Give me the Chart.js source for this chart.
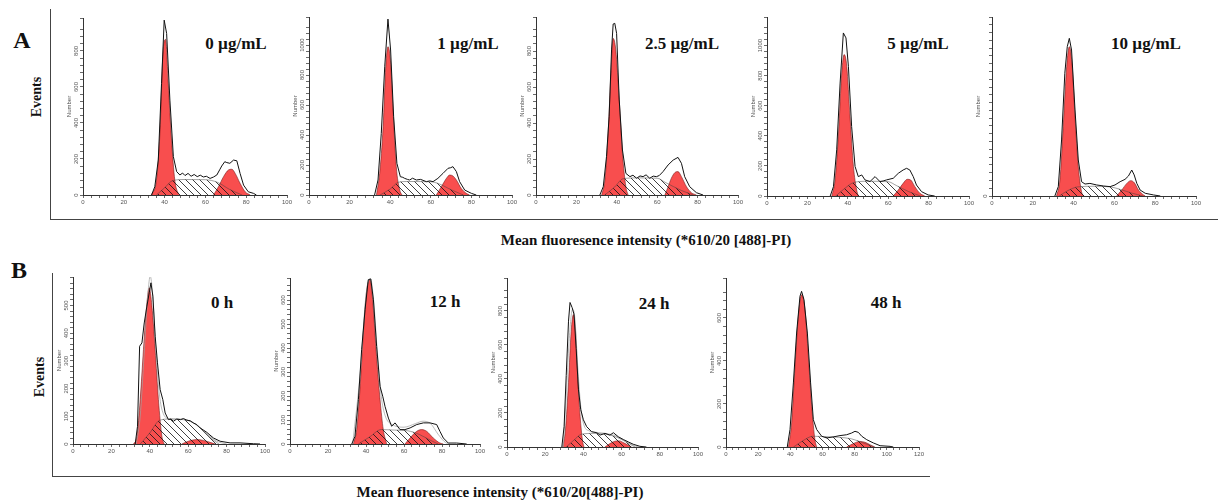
<!DOCTYPE html>
<html><head><meta charset="utf-8">
<script src="https://cdn.jsdelivr.net/npm/chart.js@4.4.1/dist/chart.umd.min.js"></script>
<style>
body{margin:0;width:1224px;height:500px;background:#fff;position:relative;overflow:hidden;font-family:"Liberation Serif","Times New Roman",serif;color:#111}
.t{position:absolute;white-space:nowrap;line-height:1;transform:translate(-50%,-50%)}
.rot{position:absolute;white-space:nowrap;line-height:1;transform:translate(-50%,-50%) rotate(-90deg)}
.ln{position:absolute;background:#444}
canvas{position:absolute}
</style></head><body>
<script>
// ---------- data ----------
const panelTitles = ['0 µg/mL','1 µg/mL','2.5 µg/mL','5 µg/mL','10 µg/mL','0 h','12 h','24 h','48 h'];
const xMaxes = [100,100,100,100,100,100,100,100,120];
const yMaxes = [983,1187,989,1190,1377,603,692,994,786];
const yMajorSteps = [200,200,200,200,300,100,100,200,200];
const yMinorSteps = [40,40,40,40,60,20,20,40,40];
const xMajorStep = 20, xMinorStep = 4;

const A1_total = [[33.6,0],[35.2,46],[36.9,194],[38.5,620],[39.8,971],[41,897],[42.6,527],[44.3,213],[45.9,130],[47.5,111],[48.8,122],[50,108],[51.5,120],[53,104],[54.5,114],[56,102],[57.5,110],[59,100],[60.5,104],[62.3,92],[64,100],[65.6,111],[67,140],[68,161],[69.5,185],[70.5,180],[72,176],[73.8,194],[75.4,190],[77,120],[78.7,55],[81,18],[83.6,9],[85,0]];
const A1_g1 = [[33.6,0],[36,83],[37.7,342],[39.3,805],[40.5,864],[41.8,620],[43.4,305],[45,83],[46.7,9],[47.5,0]];
const A1_g2 = [[64,0],[66.4,46],[68.9,102],[71.3,139],[73,143],[74.6,120],[77,65],[79.5,18],[82,0]];
const A1_s = [[36,0],[40,40],[44,80],[50,86],[60,85],[66,70],[72,30],[78,0]];

const A2_total = [[32.3,0],[34,100],[35.6,411],[37.3,855],[38.9,1173],[40.2,967],[41.7,522],[43.3,211],[45,122],[46.2,118],[47.1,111],[48.5,104],[49.6,100],[51,112],[52.9,100],[55,104],[57.8,89],[59.5,94],[61.1,89],[63.5,111],[66,144],[68.5,178],[69.8,182],[70.9,189],[72.6,156],[74.2,89],[76.7,33],[80,11],[82.4,0]];
const A2_g1 = [[33.2,0],[34.8,144],[36.5,455],[37.8,855],[38.9,989],[40.1,900],[41.4,567],[43,189],[44.7,33],[45.8,0]];
const A2_g2 = [[62.7,0],[65.2,55],[67.7,111],[69.3,133],[70.9,127],[72.6,100],[75,44],[77.5,11],[79.1,0]];
const A2_s = [[35,0],[40,40],[44,85],[48,90],[60,88],[64,75],[70,35],[76,0]];

const A3_total = [[31.6,0],[33.3,46],[34.9,213],[36.2,435],[37.4,806],[38.2,950],[39,954],[39.9,898],[41.2,528],[42.8,250],[44.5,120],[46.5,102],[48,110],[49.8,93],[51.5,106],[53,102],[54.5,112],[56.3,93],[58,105],[59.6,102],[61,108],[62.9,130],[65.4,167],[67.9,194],[70.3,209],[72,176],[73.6,102],[76.1,46],[79.4,13],[82.7,0]];
const A3_g1 = [[32.5,0],[34.1,83],[35.7,343],[37.1,676],[38.2,870],[39.5,806],[41.2,528],[42.8,231],[44.5,46],[45.6,0]];
const A3_g2 = [[63.8,0],[65.4,46],[67,93],[68.7,124],[70.3,130],[72,102],[74.5,46],[76.9,13],[79.4,0]];
const A3_s = [[34,0],[39,45],[43,90],[50,95],[60,93],[64,70],[72,25],[78,0]];

const A4_total = [[31.3,0],[32.9,62],[34.5,307],[36.2,751],[37.8,1084],[39.1,1051],[40.3,862],[41.9,462],[43.6,196],[45.2,129],[46.9,140],[48.5,107],[51,96],[53.5,129],[55.9,96],[57.5,100],[59.2,107],[62.5,118],[65,151],[67.4,173],[69.1,184],[70.7,173],[72.4,129],[74,73],[76.5,29],[79.8,7],[83,0]];
const A4_g1 = [[32.1,0],[33.7,107],[35.4,418],[37,818],[38.2,940],[39.5,862],[41.1,529],[42.8,196],[44.4,40],[45.2,0]];
const A4_g2 = [[62.5,0],[65,40],[67.4,84],[69.4,111],[71.1,107],[73.2,62],[75.7,18],[78.1,0]];
const A4_s = [[34,0],[38,45],[43,90],[50,98],[60,95],[64,70],[70,30],[76,0]];

const A5_total = [[30.8,0],[32.5,72],[34.1,431],[35.7,944],[36.9,1149],[37.9,1213],[39,1123],[40.7,662],[42.3,277],[43.9,110],[45.6,92],[48,97],[51.3,85],[54.6,77],[57.9,72],[60.3,85],[62.8,110],[65.2,128],[66.9,154],[68.5,200],[69.7,162],[71,97],[72.6,46],[75.1,21],[79.2,8],[82.5,0]];
const A5_g1 = [[31.6,0],[33.3,123],[34.9,533],[36.6,995],[37.9,1149],[39.2,1020],[40.7,610],[42.3,226],[43.9,33],[45.1,0]];
const A5_g2 = [[61.1,0],[63.6,46],[66.1,97],[68,118],[69.7,103],[71.8,46],[74.3,8],[75.1,0]];
const A5_s = [[33,0],[37,40],[42,70],[50,75],[58,70],[63,50],[69,20],[74,0]];

const B1_total = [[32.4,0],[33.6,64],[34.7,353],[35.9,365],[37.1,437],[38.5,498],[39.7,546],[40.6,582],[41.6,534],[42.8,389],[44,293],[45.4,196],[46.8,160],[48,112],[49.7,88],[51,90],[52.3,82],[54,90],[56,88],[57.5,92],[59.3,86],[61,84],[62.7,76],[64.5,70],[66.2,58],[68,50],[69.7,42],[73.1,22],[76.6,10],[81.8,4],[87,4],[94,1],[97.4,0]];
const B1_fit = [[33,0],[35,100],[37,320],[39,540],[40.2,606],[41.5,540],[43,360],[45,180],[47,110],[50,92],[55,90],[60,85],[65,65],[70,35],[75,10],[80,0]];
const B1_g1 = [[31.5,0],[33.3,28],[35,160],[36.7,341],[38.5,510],[39.7,564],[41.1,498],[42.8,341],[44.5,160],[46.3,28],[47.5,0]];
const B1_g2 = [[56.7,0],[60.1,10],[64.5,16],[67.9,13],[71.4,6],[74,0]];
const B1_s = [[35,0],[40,40],[45,85],[50,90],[60,85],[66,60],[72,20],[76,0]];

const B2_total = [[32.5,0],[34.2,32],[36,185],[37.7,393],[39.5,560],[41.2,685],[42.5,688],[43.9,601],[45.6,407],[47.4,240],[48.8,199],[50,157],[51.8,108],[53.5,74],[55.3,88],[57.9,60],[60.5,60],[63.2,67],[66.7,81],[70.2,88],[73.7,88],[77.2,81],[78.9,53],[80.7,25],[83.3,4],[87.7,4],[93,0]];
const B2_fit = [[33,0],[37,300],[40,620],[42.3,690],[44,600],[46,380],[48,200],[50,120],[54,80],[60,70],[66,85],[70,95],[74,85],[78,40],[82,5],[84,0]];
const B2_g1 = [[33.3,0],[35.1,60],[36.8,226],[38.6,463],[40.4,643],[42.1,685],[43.5,601],[45.3,393],[47.4,185],[49.1,60],[50.9,0]];
const B2_g2 = [[60.5,0],[63.2,25],[66.7,53],[69.3,60],[71.9,53],[75.4,25],[78.9,4],[80.7,0]];
const B2_s = [[36,0],[42,30],[48,60],[55,58],[62,55],[68,40],[74,15],[78,0]];

const B3_total = [[28.7,0],[29.9,120],[31,420],[32.2,740],[33,850],[34.1,820],[35.1,780],[36.2,580],[37.4,340],[38.6,220],[40,160],[41.7,120],[44.3,90],[47,84],[48.7,70],[51.3,80],[53.9,70],[55.7,84],[58.3,60],[60.9,44],[63.5,30],[66.1,16],[69.6,4],[73,0]];
const B3_fit = [[29.5,0],[31,300],[32.5,620],[34.3,810],[35.5,760],[37,480],[38.5,250],[40,140],[43,95],[48,85],[54,75],[58,60],[62,35],[66,10],[69,0]];
const B3_g1 = [[29.2,0],[30.6,100],[32.2,380],[33.6,680],[34.8,780],[36,660],[37,420],[38.3,180],[39.5,40],[40.3,0]];
const B3_g2 = [[51.3,0],[53.9,20],[56.5,34],[58.8,36],[60.9,26],[63.5,10],[65.2,0]];
const B3_s = [[31,0],[35,40],[39,75],[45,80],[52,75],[58,55],[63,25],[67,0]];

const B4_total = [[38.1,0],[39.8,81],[41.9,298],[43.9,530],[46,701],[47,724],[48.5,685],[50.6,530],[52.6,298],[54.3,127],[56.4,81],[59.5,50],[62.6,42],[66.7,47],[70.9,53],[75,57],[78.1,65],[80.2,73],[82.3,68],[84.4,50],[87.5,34],[91.6,19],[95.8,6],[102,3],[104,0]];
const B4_g1 = [[38.8,0],[40.8,112],[42.9,375],[45,608],[47,708],[49.1,639],[51.2,422],[53.3,189],[55.3,34],[56.4,0]];
const B4_g2 = [[75,0],[79.2,16],[83.3,26],[86.4,22],[89.5,11],[92.6,0]];
const B4_s = [[42,0],[48,30],[54,50],[62,48],[70,45],[78,38],[85,20],[92,0]];

const totals = [A1_total,A2_total,A3_total,A4_total,A5_total,B1_total,B2_total,B3_total,B4_total];
const fits   = [null,null,null,null,null,B1_fit,B2_fit,B3_fit,null];
const g1s    = [A1_g1,A2_g1,A3_g1,A4_g1,A5_g1,B1_g1,B2_g1,B3_g1,B4_g1];
const g2s    = [A1_g2,A2_g2,A3_g2,A4_g2,A5_g2,B1_g2,B2_g2,B3_g2,B4_g2];
const sPhases= [A1_s,A2_s,A3_s,A4_s,A5_s,B1_s,B2_s,B3_s,B4_s];

// ---------- layout (page pixels of each plot area: left, right, top, bottom) ----------
const plotBoxes = [[83,287,18,195],[309,512,17,195],[536,738,17,195],[767,969,17,196],[992,1196,17,196],
                   [73,265,277,444],[290,480,278,444],[507,698,278,447],[726,919,278,447]];
const titlePos = [[236,43],[468,43],[682,43],[918,43],[1146,43],[222,302],[445,301],[654,303],[886,302]];

// ---------- static text / frames ----------
function addDiv(cls, text, x, y, css){const d=document.createElement('div');d.className=cls;d.textContent=text;d.style.left=x+'px';d.style.top=y+'px';Object.assign(d.style,css||{});document.body.appendChild(d);return d;}
function addLine(x,y,w,h){const d=document.createElement('div');d.className='ln';Object.assign(d.style,{left:x+'px',top:y+'px',width:w+'px',height:h+'px'});document.body.appendChild(d);}
addLine(50,9,1.3,211); addLine(50,219,1168,1.3);
addLine(52,273,1.3,204); addLine(52,476,878,1.3);
addDiv('t','A',22,40,{fontSize:'24px',fontWeight:'bold'});
addDiv('t','B',19,270,{fontSize:'24px',fontWeight:'bold'});
addDiv('rot','Events',37,97,{fontSize:'14px',fontWeight:'bold'});
addDiv('rot','Events',40,377,{fontSize:'14px',fontWeight:'bold'});
addDiv('t','Mean fluoresence intensity (*610/20 [488]-PI)',646,240,{fontSize:'15px',fontWeight:'bold'});
addDiv('t','Mean fluoresence intensity (*610/20[488]-PI)',500,492,{fontSize:'15px',fontWeight:'bold'});
panelTitles.forEach((t,i)=>addDiv('t',t,titlePos[i][0],titlePos[i][1],{fontSize:'17px',fontWeight:'bold'}));

// ---------- hatch pattern ----------
function makeHatch(){
  const c=document.createElement('canvas'); const n=7; c.width=n; c.height=n;
  const g=c.getContext('2d'); g.strokeStyle='rgba(20,20,20,0.9)'; g.lineWidth=0.9;
  g.beginPath(); g.moveTo(-1,-1); g.lineTo(n+1,n+1); g.moveTo(-1,n-1); g.lineTo(1,n+1); g.moveTo(n-1,-1); g.lineTo(n+1,1); g.stroke();
  return g.createPattern(c,'repeat');
}
const hatch = makeHatch();
const RED = 'rgb(248,78,78)';

const yLabelPlugin = {
  id:'yLabels',
  afterDraw(chart, args, opts){
    const ys=chart.scales.y, ctx=chart.ctx;
    ctx.save(); ctx.fillStyle='#555'; ctx.font='6px "Liberation Sans", Arial, sans-serif';
    ctx.textAlign='center'; ctx.textBaseline='middle';
    ys.ticks.forEach(t=>{
      if (Math.abs(t.value % opts.major) < 1e-6) {
        const py=ys.getPixelForValue(t.value);
        ctx.save(); ctx.translate(ys.right-7, py); ctx.rotate(-Math.PI/2); ctx.fillText(String(t.value),0,0); ctx.restore();
      }
    });
    ctx.save(); ctx.translate(ys.right-14,(chart.chartArea.top+chart.chartArea.bottom)/2); ctx.rotate(-Math.PI/2); ctx.fillText('Number',0,0); ctx.restore();
    ctx.restore();
  }
};

const toXY = a => a.map(p=>({x:p[0],y:p[1]}));
const PADL=30, PADR=12, PADT=6, XH=20;

plotBoxes.forEach((b,i)=>{
  const [L,R,T,B]=b;
  const cv=document.createElement('canvas');
  const w=(R-L)+PADL+PADR, h=(B-T)+PADT+XH;
  cv.width=w; cv.height=h; cv.style.left=(L-PADL)+'px'; cv.style.top=(T-PADT)+'px';
  document.body.appendChild(cv);
  const ds=[
    {data:toXY(totals[i]),borderColor:'#111',borderWidth:1,fill:false,order:0,tension:0},
    {data:toXY(sPhases[i]),borderColor:'rgba(60,60,60,0.8)',borderWidth:0.6,backgroundColor:hatch,fill:'origin',order:2,cubicInterpolationMode:'monotone'},
    {data:toXY(g1s[i]),borderColor:'rgba(110,20,20,0.8)',borderWidth:0.7,backgroundColor:RED,fill:'origin',order:3,cubicInterpolationMode:'monotone'},
    {data:toXY(g2s[i]),borderColor:'rgba(110,20,20,0.8)',borderWidth:0.7,backgroundColor:RED,fill:'origin',order:3,cubicInterpolationMode:'monotone'}
  ];
  if (fits[i]) ds.push({data:toXY(fits[i]),borderColor:'rgba(160,160,160,0.9)',borderWidth:0.8,fill:false,order:1,cubicInterpolationMode:'monotone'});
  new Chart(cv,{
    type:'line',
    data:{datasets:ds},
    options:{
      responsive:false, animation:false, maintainAspectRatio:false,
      layout:{padding:{left:0,right:PADR,top:PADT,bottom:0}},
      elements:{point:{radius:0}},
      plugins:{legend:{display:false},tooltip:{enabled:false},yLabels:{major:yMajorSteps[i]}},
      scales:{
        x:{type:'linear',min:0,max:xMaxes[i],
           border:{display:true,color:'#333',width:1},
           grid:{drawOnChartArea:false,drawTicks:true,tickLength:3,color:'#444',lineWidth:0.8},
           ticks:{stepSize:xMinorStep,autoSkip:false,maxRotation:0,minRotation:0,padding:1,color:'#555',
                  font:{size:6,family:'"Liberation Sans", Arial, sans-serif'},
                  callback:v=>(v%xMajorStep===0?String(v):'')},
           afterFit:s=>{s.height=XH;}},
        y:{type:'linear',min:0,max:yMaxes[i],
           border:{display:true,color:'#333',width:1},
           grid:{drawOnChartArea:false,drawTicks:true,tickLength:3,color:'#444',lineWidth:0.8},
           ticks:{display:false,stepSize:yMinorSteps[i]},
           afterFit:s=>{s.width=PADL;}}
      }
    },
    plugins:[yLabelPlugin]
  });
});
</script>
</body></html>
